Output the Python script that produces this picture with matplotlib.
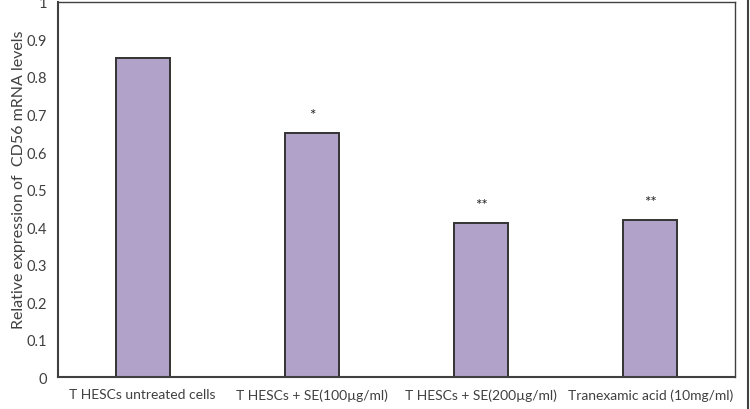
import matplotlib
matplotlib.use("Agg")
import matplotlib.pyplot as plt
from matplotlib.lines import Line2D

categories = ["T HESCs untreated cells", "T HESCs + SE(100µg/ml)",
              "T HESCs + SE(200µg/ml)", "Tranexamic acid (10mg/ml)"]
values = [0.85, 0.65, 0.41, 0.42]
marks = ["", "*", "**", "**"]
yticks = [0, 0.1, 0.2, 0.3, 0.4, 0.5, 0.6, 0.7, 0.8, 0.9, 1]
yticklabels = ["0", "0.1", "0.2", "0.3", "0.4", "0.5", "0.6", "0.7", "0.8", "0.9", "1"]

plt.rcParams['font.family'] = ['Lato', 'DejaVu Sans']
txt = '#404040'

fig = plt.figure(figsize=(7.5, 4.1), dpi=100)
ax = fig.add_axes([0.0773, 0.078, 0.9027, 0.9147])
x = range(len(categories))
ax.bar(x, values, width=0.32, color='#B1A2C9', edgecolor='#333333', linewidth=1.4)
for i, (v, m) in enumerate(zip(values, marks)):
    if m:
        ax.text(i, v + 0.048, m, ha='center', va='center', fontsize=11, color='#222222')
ax.set_xlim(-0.5, 3.5)
ax.set_ylim(0, 1)
ax.set_yticks(yticks)
ax.set_yticklabels(yticklabels, fontsize=10.5, color=txt)
ax.set_xticks(list(x))
ax.set_xticklabels(categories, fontsize=10, color=txt)
ax.tick_params(length=0, pad=8)
ax.tick_params(axis='y', pad=8)
ax.set_ylabel("Relative expression of  CD56 mRNA levels", fontsize=11.5, color=txt, va='center')
ax.yaxis.set_label_coords(-0.057, 0.53)
for s in ['left', 'bottom']:
    ax.spines[s].set_color('#404040')
    ax.spines[s].set_linewidth(1.5)
for s in ['top', 'right']:
    ax.spines[s].set_color('#404040')
    ax.spines[s].set_linewidth(1.0)
fig.add_artist(Line2D([0.997, 0.997], [0, 1], transform=fig.transFigure, color='#404040', linewidth=1.5))
fig.savefig("out.png", dpi=100)
